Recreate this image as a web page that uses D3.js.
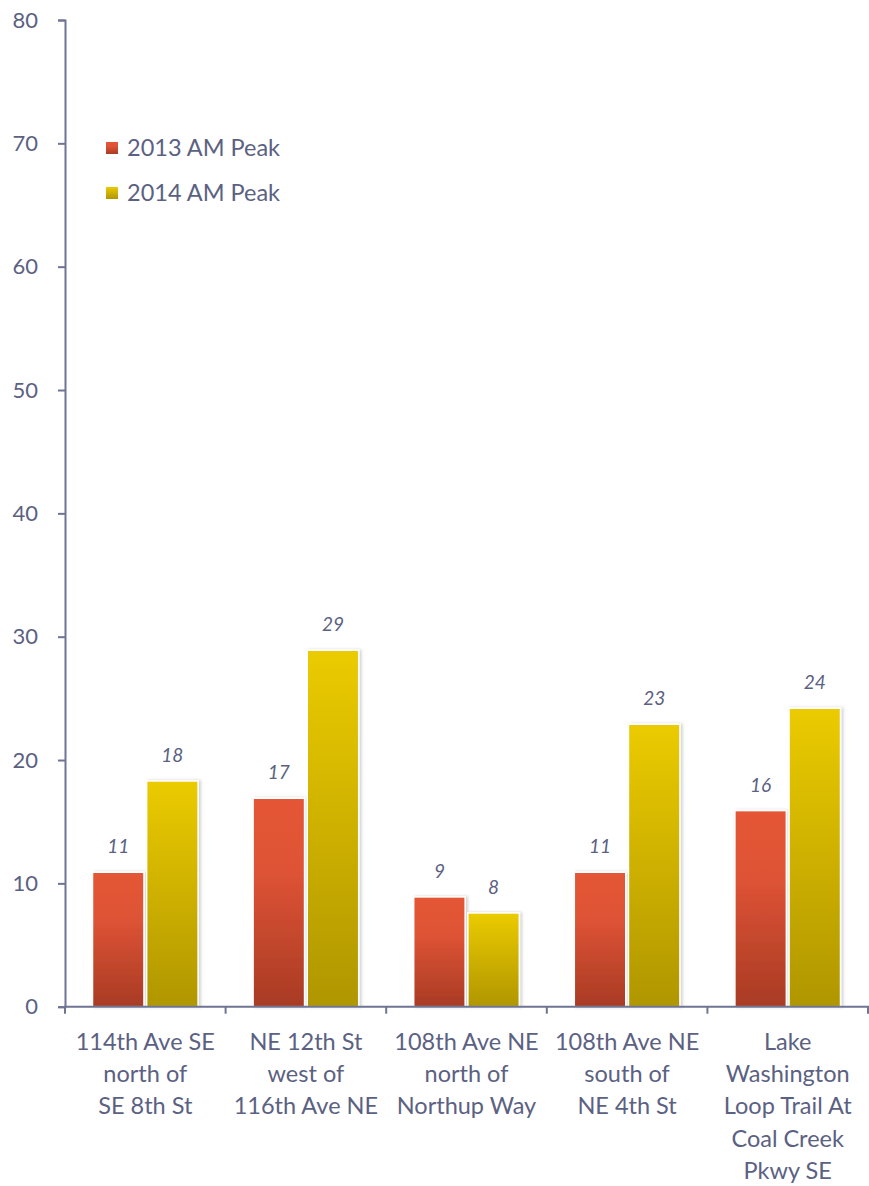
<!DOCTYPE html>
<html><head><meta charset="utf-8">
<script src="https://cdn.jsdelivr.net/npm/d3@7"></script>
<style>
body{margin:0;background:#fff;}
text{font-family:Lato,"Open Sans",sans-serif;fill:#5b6182;}
</style></head>
<body><svg id="c" width="869" height="1186"></svg>
<script>
const categories = [
  ["114th Ave SE","north of","SE 8th St"],
  ["NE 12th St","west of","116th Ave NE"],
  ["108th Ave NE","north of","Northup Way"],
  ["108th Ave NE","south of","NE 4th St"],
  ["Lake","Washington","Loop Trail At","Coal Creek","Pkwy SE"]
];
const seriesNames = ["2013 AM Peak","2014 AM Peak"];
const values2013 = [10.9, 16.9, 8.9, 10.9, 15.9];
const values2014 = [18.3, 28.9, 7.6, 22.9, 24.2];
const yTicks = [0,10,20,30,40,50,60,70,80];

const svg = d3.select("#c");
const axisColor = "#6e7494";
const x = d3.scaleBand().domain(d3.range(categories.length)).range([65, 868]).paddingInner(0).paddingOuter(0);
const y = d3.scaleLinear().domain([0,80]).range([1006.7, 20]);
const inner = d3.scaleBand().domain([0,1]).range([27.5, x.bandwidth()-27.5]).paddingInner(0.05);

const defs = svg.append("defs");
const g1 = defs.append("linearGradient").attr("id","gRed").attr("x1",0).attr("y1",0).attr("x2",0).attr("y2",1);
g1.append("stop").attr("offset","0%").attr("stop-color","#e45636");
g1.append("stop").attr("offset","35%").attr("stop-color","#de5335");
g1.append("stop").attr("offset","100%").attr("stop-color","#a83b24");
const g2 = defs.append("linearGradient").attr("id","gYel").attr("x1",0).attr("y1",0).attr("x2",0).attr("y2",1);
g2.append("stop").attr("offset","0%").attr("stop-color","#ebcb00");
g2.append("stop").attr("offset","100%").attr("stop-color","#b09600");
const f = defs.append("filter").attr("id","sh").attr("x","-20%").attr("y","-5%").attr("width","140%").attr("height","110%");
f.append("feDropShadow").attr("dx",2).attr("dy",0).attr("stdDeviation",1.5).attr("flood-color","#000").attr("flood-opacity",0.18);

const fills = ["url(#gRed)","url(#gYel)"];
const data = [values2013, values2014];

// bars
data.forEach((vals, si) => {
  svg.append("g").selectAll("rect").data(vals).join("rect")
    .attr("x",(d,i)=>x(i)+inner(si))
    .attr("y",d=>y(d))
    .attr("width",inner.bandwidth())
    .attr("height",d=>y(0)-y(d))
    .attr("fill",fills[si])
    .attr("stroke","#fff").attr("stroke-width",1.5)
    .attr("filter","url(#sh)");
  svg.append("g").selectAll("text").data(vals).join("text")
    .attr("x",(d,i)=>x(i)+inner(si)+inner.bandwidth()/2)
    .attr("y",d=>y(d)-19)
    .attr("text-anchor","middle")
    .attr("font-style","italic")
    .attr("font-size",19)
    .text(d=>d3.format(".0f")(d));
});

// y axis
const ya = svg.append("g").attr("transform","translate(65,0)")
  .call(d3.axisLeft(y).tickValues(yTicks).tickSize(7).tickPadding(20));
ya.select(".domain").attr("stroke",axisColor).attr("stroke-width",2);
ya.selectAll(".tick line").attr("stroke",axisColor).attr("stroke-width",2);
ya.selectAll(".tick text").attr("font-size",22).attr("fill","#5b6182").style("font-family","Lato,sans-serif");

// x axis
const xa = svg.append("g").attr("transform",`translate(0,${y(0)})`);
xa.append("line").attr("x1",64).attr("x2",869).attr("stroke",axisColor).attr("stroke-width",2);
const tickXs = d3.range(categories.length+1).map(i => i<categories.length ? x(i) : x(i-1)+x.bandwidth());
xa.selectAll("line.t").data(tickXs).join("line").attr("class","t")
  .attr("x1",d=>d).attr("x2",d=>d).attr("y1",0).attr("y2",7)
  .attr("stroke",axisColor).attr("stroke-width",2);
categories.forEach((lines,i)=>{
  const t = xa.append("text").attr("text-anchor","middle").attr("font-size",23.5)
    .attr("x", x(i)+x.bandwidth()/2).attr("y", 43);
  lines.forEach((l,j)=>t.append("tspan").attr("x",x(i)+x.bandwidth()/2).attr("y",43+j*32.3).text(l));
});

// legend
const leg = svg.append("g");
seriesNames.forEach((n,i)=>{
  const ly = 148 + i*45;
  leg.append("rect").attr("x",106).attr("y",ly-6).attr("width",12).attr("height",12).attr("fill",fills[i]);
  leg.append("text").attr("x",127).attr("y",ly+8).attr("font-size",23.5).text(n);
});
</script></body></html>
